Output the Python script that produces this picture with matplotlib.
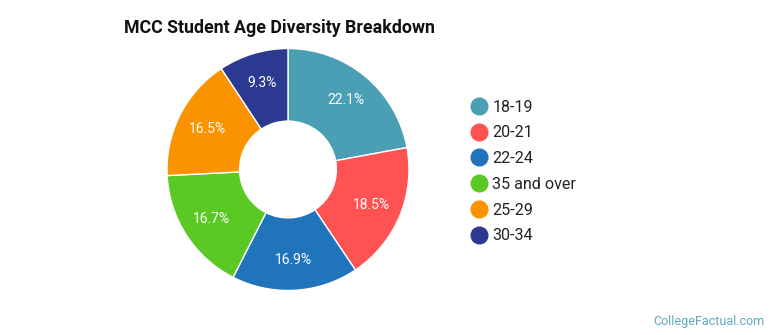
import matplotlib
matplotlib.use('Agg')
import matplotlib.pyplot as plt
from matplotlib.lines import Line2D

labels = ['18-19', '20-21', '22-24', '35 and over', '25-29', '30-34']
shares = [22.1, 18.5, 16.9, 16.7, 16.5, 9.3]
colors = ['#4A9FB5', '#FF5252', '#1F74BC', '#5BC924', '#FB9300', '#2B3990']

plt.rcParams['font.family'] = ['Roboto', 'DejaVu Sans']

fig = plt.figure(figsize=(7.7, 3.35), dpi=100)

# donut, placed in pixel terms: centre (288, 169), radius 121
W, H = 770, 335
cx, cy, r = 288, 169.5, 121
ax = fig.add_axes([(cx - r) / W, (H - cy - r) / H, 2 * r / W, 2 * r / H])
wedges, texts, autotexts = ax.pie(
    shares, colors=colors, startangle=90, counterclock=False,
    autopct='%.1f%%', pctdistance=0.75, radius=1,
    wedgeprops=dict(width=0.6, edgecolor='white', linewidth=1),
    textprops=dict(color='white', fontsize=10))
ax.set_xlim(-1, 1)
ax.set_ylim(-1, 1)
ax.set_aspect('equal')

fig.text(124 / W, 1 - 28 / H, 'MCC Student Age Diversity Breakdown',
         fontsize=12.8, fontweight='bold', color='#111111', va='center', ha='left')

handles = [Line2D([], [], marker='o', linestyle='', markersize=12,
                  markerfacecolor=c, markeredgecolor=c) for c in colors]
fig.legend(handles, labels, loc='upper left', bbox_to_anchor=(452 / W, 1 - 85 / H),
           frameon=False, fontsize=11.6, labelspacing=0.67, handletextpad=0.1,
           handlelength=1.5, labelcolor='#222222')

fig.text(765 / W, 1 - 321 / H, 'CollegeFactual.com', fontsize=9,
         color='#5FA8C4', ha='right', va='center')

fig.savefig('out.png', dpi=100)
